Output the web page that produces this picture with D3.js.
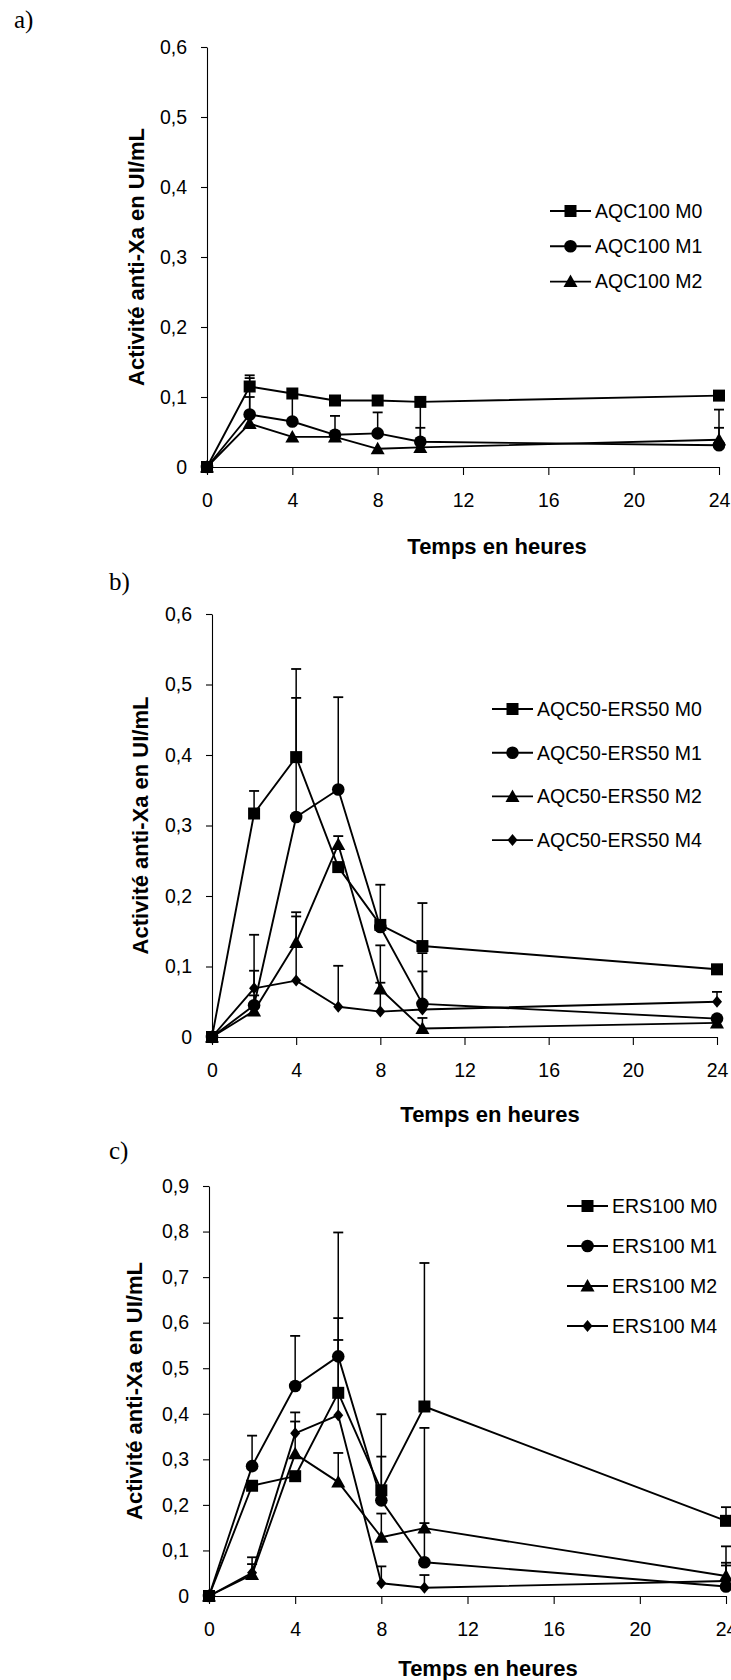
<!DOCTYPE html>
<html>
<head>
<meta charset="utf-8">
<script src="https://cdn.jsdelivr.net/npm/d3@7/dist/d3.min.js"></script>
<style>
  html, body { margin: 0; padding: 0; background: #fff; }
  svg { display: block; }
  text { font-family: "Liberation Sans", Arial, sans-serif; fill: #000; }
</style>
</head>
<body>
<script>
// ---------------- DATA ----------------
const hours = [0, 2, 4, 6, 8, 10, 24];
const xTicks = [0, 4, 8, 12, 16, 20, 24];
const xTickLabels = ["0", "4", "8", "12", "16", "20", "24"];
const yTicksA = [0, 0.1, 0.2, 0.3, 0.4, 0.5, 0.6];
const yTickLabelsA = ["0", "0,1", "0,2", "0,3", "0,4", "0,5", "0,6"];
const yTicksC = [0, 0.1, 0.2, 0.3, 0.4, 0.5, 0.6, 0.7, 0.8, 0.9];
const yTickLabelsC = ["0", "0,1", "0,2", "0,3", "0,4", "0,5", "0,6", "0,7", "0,8", "0,9"];
const xTitle = "Temps en heures";
const yTitle = "Activité anti-Xa en UI/mL";
const panelLabels = ["a)", "b)", "c)"];
const shapes = ["square", "circle", "triangle", "diamond"];

// Panel a
const aNames = ["AQC100 M0", "AQC100 M1", "AQC100 M2"];
const aM0 = [0, 0.115, 0.105, 0.095, 0.095, 0.093, 0.102];
const aM1 = [0, 0.075, 0.065, 0.046, 0.048, 0.036, 0.031];
const aM2 = [0, 0.062, 0.043, 0.043, 0.026, 0.028, 0.039];
const aM0err = [0, 0.016, 0, 0, 0, 0, 0];
const aM1err = [0, 0.052, 0.035, 0.027, 0.030, 0.055, 0.051];
const aM2err = [0, 0.038, 0, 0, 0, 0.028, 0.017];

// Panel b
const bNames = ["AQC50-ERS50 M0", "AQC50-ERS50 M1", "AQC50-ERS50 M2", "AQC50-ERS50 M4"];
const bM0 = [0, 0.317, 0.397, 0.241, 0.159, 0.129, 0.096];
const bM1 = [0, 0.045, 0.312, 0.351, 0.156, 0.047, 0.026];
const bM2 = [0, 0.037, 0.134, 0.273, 0.068, 0.012, 0.020];
const bM4 = [0, 0.069, 0.080, 0.043, 0.036, 0.039, 0.050];
const bM0err = [0, 0.032, 0.125, 0, 0.057, 0.061, 0.004];
const bM1err = [0, 0.049, 0.169, 0.131, 0, 0.072, 0];
const bM2err = [0, 0.022, 0.043, 0.012, 0.062, 0.015, 0];
const bM4err = [0, 0.076, 0.091, 0.058, 0.041, 0.054, 0.014];

// Panel c
const cNames = ["ERS100 M0", "ERS100 M1", "ERS100 M2", "ERS100 M4"];
const cM0 = [0, 0.242, 0.263, 0.446, 0.232, 0.416, 0.165];
const cM1 = [0, 0.285, 0.461, 0.526, 0.210, 0.074, 0.021];
const cM2 = [0, 0.047, 0.312, 0.250, 0.129, 0.149, 0.044];
const cM4 = [0, 0.051, 0.357, 0.397, 0.028, 0.018, 0.033];
const cM0err = [0, 0, 0, 0.352, 0.167, 0.315, 0.030];
const cM1err = [0, 0.067, 0.110, 0.084, 0.096, 0.295, 0.046];
const cM2err = [0, 0.038, 0.071, 0.064, 0.052, 0.011, 0.065];
const cM4err = [0, 0.019, 0.046, 0.165, 0.037, 0.028, 0.040];

// ---------------- LAYOUT ----------------
const W = 731, H = 1680;
const panels = [
  { names: aNames, values: [aM0, aM1, aM2], errs: [aM0err, aM1err, aM2err],
    yTicks: yTicksA, yLabels: yTickLabelsA,
    left: 207, right: 719, top: 47, bottom: 467,
    legX1: 550, legX2: 591, legTx: 595, legY0: 211, legDy: 35.3,
    titleX: 497, titleDy: 79, yTitleX: 136, labX: 14, labY: 28 },
  { names: bNames, values: [bM0, bM1, bM2, bM4], errs: [bM0err, bM1err, bM2err, bM4err],
    yTicks: yTicksA, yLabels: yTickLabelsA,
    left: 212, right: 717, top: 614, bottom: 1037,
    legX1: 492, legX2: 533, legTx: 537, legY0: 709, legDy: 43.7,
    titleX: 490, titleDy: 77, yTitleX: 140, labX: 109, labY: 590 },
  { names: cNames, values: [cM0, cM1, cM2, cM4], errs: [cM0err, cM1err, cM2err, cM4err],
    yTicks: yTicksC, yLabels: yTickLabelsC,
    left: 209, right: 726, top: 1186, bottom: 1596,
    legX1: 567, legX2: 608, legTx: 612, legY0: 1206, legDy: 40,
    titleX: 488, titleDy: 72, yTitleX: 134, labX: 109, labY: 1159 }
];

const svg = d3.select("body").append("svg").attr("width", W).attr("height", H);

function markerPath(shape) {
  if (shape === "square") return "M-6,-6H6V6H-6Z";
  if (shape === "circle") return d3.symbol(d3.symbolCircle, Math.PI * 6.3 * 6.3)();
  if (shape === "triangle") return "M0,-7L7,5.5H-7Z";
  return "M0,-6L5,0L0,6L-5,0Z";
}

panels.forEach((p, pi) => {
  const g = svg.append("g");
  const yMax = p.yTicks[p.yTicks.length - 1];
  const x = d3.scaleLinear().domain([0, 24]).range([p.left, p.right]);
  const y = d3.scaleLinear().domain([0, yMax]).range([p.bottom, p.top]);

  // panel label
  g.append("text").attr("x", p.labX).attr("y", p.labY)
    .style("font-family", "'Liberation Serif', 'Times New Roman', serif")
    .style("font-size", "25px").text(panelLabels[pi]);

  // axes
  const ya = d3.axisLeft(y).tickValues(p.yTicks).tickFormat((d, i) => p.yLabels[i])
    .tickSize(6).tickSizeOuter(0).tickPadding(14);
  const gy = g.append("g").attr("transform", `translate(${p.left},0)`).call(ya);
  const xa = d3.axisBottom(x).tickValues(xTicks).tickFormat((d, i) => xTickLabels[i])
    .tickSize(8).tickSizeOuter(0).tickPadding(18);
  const gx = g.append("g").attr("transform", `translate(0,${p.bottom})`).call(xa);
  [gx, gy].forEach(a => {
    a.selectAll("text").style("font-size", "19.5px").style("font-family", "'Liberation Sans', Arial, sans-serif");
    a.selectAll("path, line").attr("stroke", "#000").attr("stroke-width", 1.1);
  });

  // titles
  g.append("text").attr("x", p.titleX).attr("y", p.bottom + p.titleDy).attr("dy", "0.35em")
    .attr("text-anchor", "middle").style("font-weight", "bold").style("font-size", "22px").text(xTitle);
  g.append("text")
    .attr("transform", `translate(${p.yTitleX},${(p.top + p.bottom) / 2}) rotate(-90)`)
    .attr("dy", "0.35em").attr("text-anchor", "middle")
    .style("font-weight", "bold").style("font-size", "22px").text(yTitle);

  const line = d3.line().x((d, i) => x(hours[i])).y(d => y(d));

  // lines
  p.values.forEach(vals => {
    g.append("path").attr("d", line(vals)).attr("fill", "none")
      .attr("stroke", "#000").attr("stroke-width", 1.9).attr("stroke-linejoin", "round");
  });

  // error bars (positive only)
  p.values.forEach((vals, si) => {
    const errs = p.errs[si];
    vals.forEach((v, i) => {
      if (!errs[i]) return;
      const xx = x(hours[i]);
      g.append("line").attr("x1", xx).attr("x2", xx).attr("y1", y(v)).attr("y2", y(v + errs[i]))
        .attr("stroke", "#000").attr("stroke-width", 1.5);
      g.append("line").attr("x1", xx - 5).attr("x2", xx + 5).attr("y1", y(v + errs[i])).attr("y2", y(v + errs[i]))
        .attr("stroke", "#000").attr("stroke-width", 1.8);
    });
  });

  // markers
  for (let si = p.values.length - 1; si >= 0; si--) {
    const vals = p.values[si];
    g.selectAll(null).data(vals).enter().append("path")
      .attr("d", markerPath(shapes[si]))
      .attr("transform", (d, i) => `translate(${x(hours[i])},${y(d)})`)
      .attr("fill", "#000");
  }

  // legend
  p.names.forEach((name, si) => {
    const ly = p.legY0 + si * p.legDy;
    g.append("line").attr("x1", p.legX1).attr("x2", p.legX2).attr("y1", ly).attr("y2", ly)
      .attr("stroke", "#000").attr("stroke-width", 1.9);
    g.append("path").attr("d", markerPath(shapes[si]))
      .attr("transform", `translate(${(p.legX1 + p.legX2) / 2},${ly})`).attr("fill", "#000");
    g.append("text").attr("x", p.legTx).attr("y", ly).attr("dy", "0.35em")
      .style("font-size", "19.5px").text(name);
  });
});
</script>
</body>
</html>
